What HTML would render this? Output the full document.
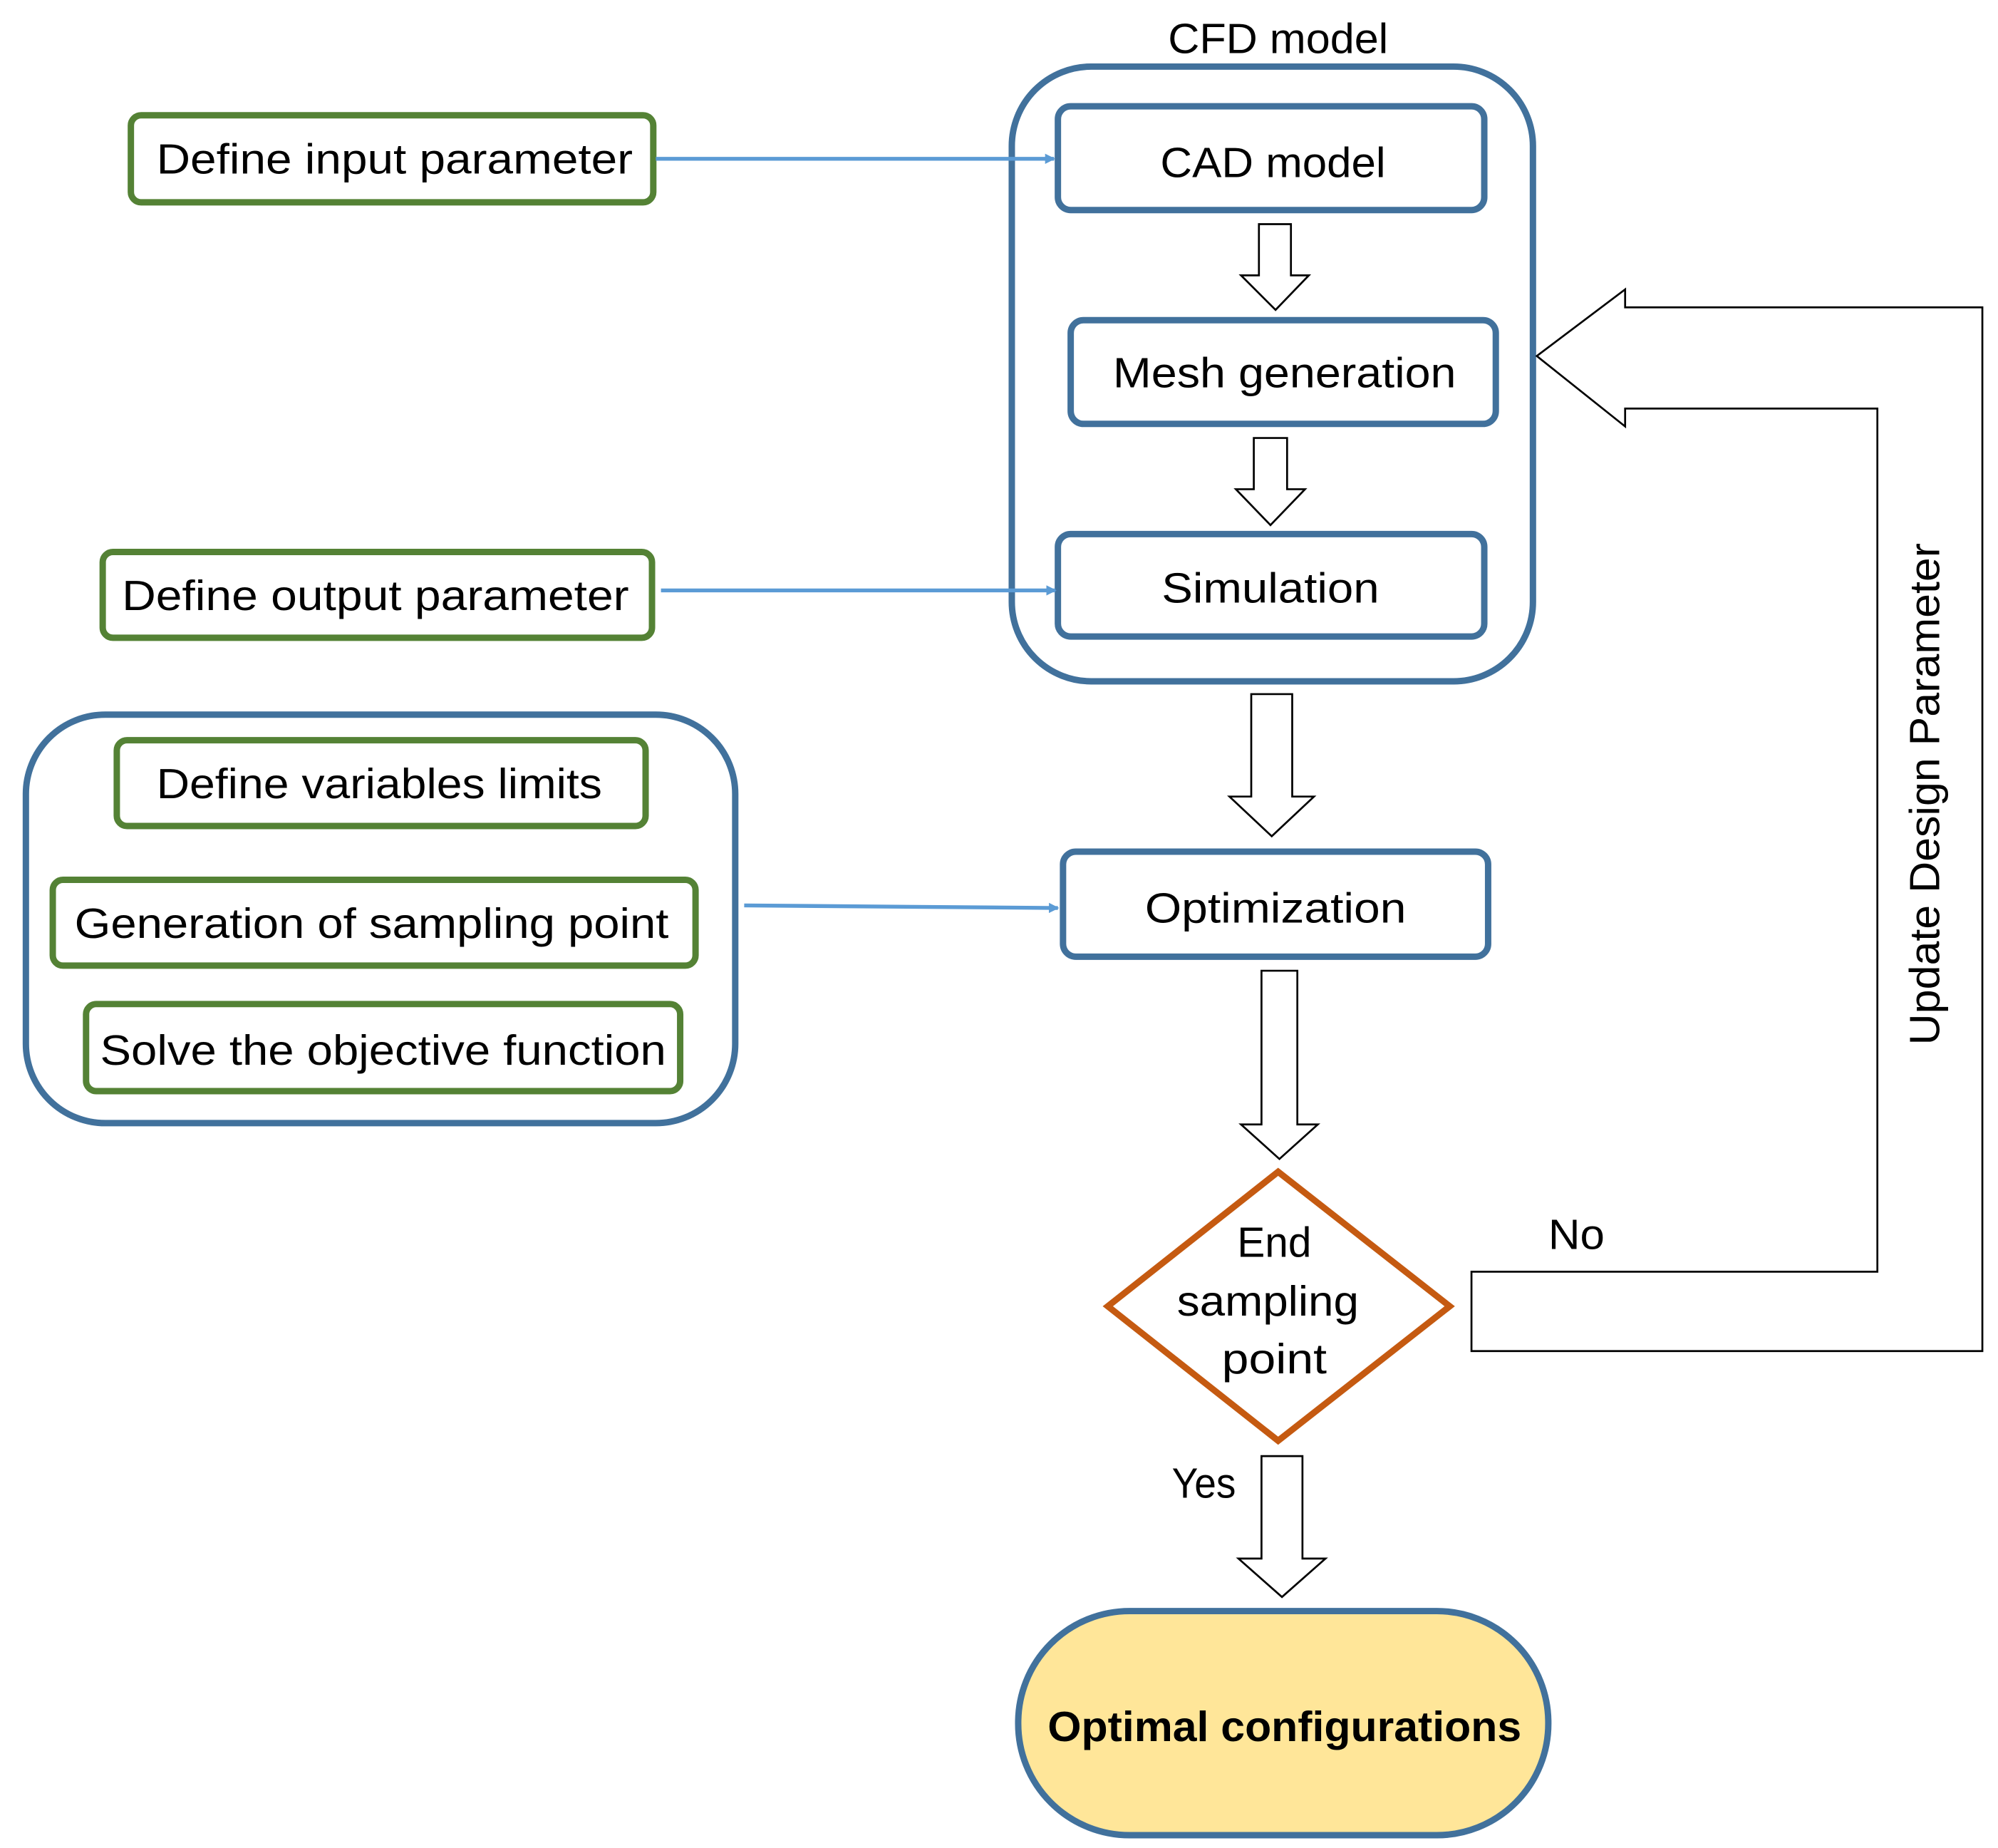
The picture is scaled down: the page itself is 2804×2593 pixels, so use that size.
<!DOCTYPE html>
<html><head><meta charset="utf-8"><style>html,body{margin:0;padding:0;background:#fff}svg{display:block}</style></head>
<body>
<svg xmlns="http://www.w3.org/2000/svg" width="2804" height="2593" viewBox="0 0 1560 1443">
<defs>
<marker id="ah" markerWidth="8" markerHeight="8" refX="7" refY="4" orient="auto" markerUnits="userSpaceOnUse">
<path d="M0,0 L8,4 L0,8 z" fill="#5b9bd5"/>
</marker>
</defs>
<g font-family="Liberation Sans, sans-serif" font-size="33" fill="#000" text-anchor="middle" dominant-baseline="central" lengthAdjust="spacingAndGlyphs">
<text x="998" y="30" textLength="172" lengthAdjust="spacingAndGlyphs">CFD model</text>
<rect x="790" y="52" width="407" height="480" rx="62" fill="none" stroke="#41719c" stroke-width="5"/>
<rect x="826" y="83" width="333" height="81" rx="10" fill="#fff" stroke="#41719c" stroke-width="5"/>
<text x="994" y="127" textLength="176" lengthAdjust="spacingAndGlyphs">CAD model</text>
<rect x="836" y="250" width="332" height="81" rx="10" fill="#fff" stroke="#41719c" stroke-width="5"/>
<text x="1003" y="291" textLength="268" lengthAdjust="spacingAndGlyphs">Mesh generation</text>
<rect x="826" y="417" width="333" height="80" rx="10" fill="#fff" stroke="#41719c" stroke-width="5"/>
<text x="992" y="459" textLength="170" lengthAdjust="spacingAndGlyphs">Simulation</text>
<g fill="#fff" stroke="#000" stroke-width="1.5">
<path d="M983,175 H1008 V215 H1022 L996,242 L969,215 H983 Z"/>
<path d="M979,342 H1005 V382 H1019 L992,410 L965,382 H979 Z"/>
<path d="M977,542 H1009 V622 H1026 L993,653 L960,622 H977 Z"/>
<path d="M985,758 H1013 V878 H1029 L999,905 L969,878 H985 Z"/>
<path d="M985,1137 H1017 V1217 H1035 L1001,1247 L967,1217 H985 Z"/>
<path d="M1149,993 H1466 V319 H1269 V333 L1200,278 L1269,226 V240 H1548 V1055 H1149 Z"/>
</g>
<rect x="830" y="665" width="332" height="82" rx="10" fill="#fff" stroke="#41719c" stroke-width="5"/>
<text x="996" y="709" textLength="204" lengthAdjust="spacingAndGlyphs">Optimization</text>
<path d="M998,915 L1132,1020 L998,1125 L865,1020 Z" fill="#fff" stroke="#c55a11" stroke-width="5"/>
<text x="995" y="970" textLength="58" lengthAdjust="spacingAndGlyphs">End</text>
<text x="990" y="1016" textLength="142" lengthAdjust="spacingAndGlyphs">sampling</text>
<text x="995" y="1061" textLength="82" lengthAdjust="spacingAndGlyphs">point</text>
<text x="940" y="1158" textLength="50" lengthAdjust="spacingAndGlyphs">Yes</text>
<text x="1231" y="964" textLength="44" lengthAdjust="spacingAndGlyphs">No</text>
<text x="1503" y="620" transform="rotate(-90 1503 620)" textLength="392" lengthAdjust="spacingAndGlyphs">Update Design Parameter</text>
<rect x="795" y="1258" width="414" height="175" rx="87" fill="#ffe699" stroke="#41719c" stroke-width="5"/>
<text x="1003" y="1348" font-weight="bold" textLength="370" lengthAdjust="spacingAndGlyphs">Optimal configurations</text>
<rect x="102" y="90" width="408" height="68" rx="8" fill="#fff" stroke="#548235" stroke-width="5"/>
<text x="308" y="124" textLength="372" lengthAdjust="spacingAndGlyphs">Define input parameter</text>
<rect x="80" y="431" width="429" height="67" rx="8" fill="#fff" stroke="#548235" stroke-width="5"/>
<text x="293" y="465" textLength="396" lengthAdjust="spacingAndGlyphs">Define output parameter</text>
<rect x="20" y="558" width="554" height="319" rx="62" fill="none" stroke="#41719c" stroke-width="5"/>
<rect x="91" y="578" width="413" height="67" rx="8" fill="#fff" stroke="#548235" stroke-width="5"/>
<text x="296" y="612" textLength="348" lengthAdjust="spacingAndGlyphs">Define variables limits</text>
<rect x="41" y="687" width="502" height="67" rx="8" fill="#fff" stroke="#548235" stroke-width="5"/>
<text x="290" y="721" textLength="464" lengthAdjust="spacingAndGlyphs">Generation of sampling point</text>
<rect x="67" y="784" width="464" height="68" rx="8" fill="#fff" stroke="#548235" stroke-width="5"/>
<text x="299" y="820" textLength="442" lengthAdjust="spacingAndGlyphs">Solve the objective function</text>
<g stroke="#5b9bd5" stroke-width="3" marker-end="url(#ah)">
<line x1="512" y1="124" x2="823" y2="124"/>
<line x1="516" y1="461" x2="824" y2="461"/>
<line x1="581" y1="707" x2="826" y2="709"/>
</g>
</g>
</svg>
</body></html>
